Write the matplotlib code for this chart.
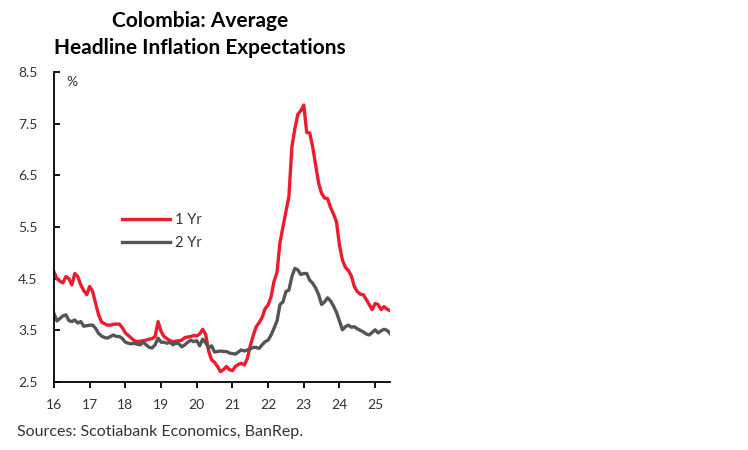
import matplotlib
matplotlib.use("Agg")
import matplotlib.pyplot as plt
import numpy as np

# Monthly data, Jan 2016 .. Jun 2025
one_yr = [4.63, 4.50, 4.45, 4.42, 4.54, 4.50, 4.38, 4.60, 4.54, 4.38, 4.27, 4.19,
          4.35, 4.25, 4.02, 3.80, 3.66, 3.63, 3.60, 3.60, 3.62, 3.62, 3.62, 3.55,
          3.45, 3.40, 3.35, 3.30, 3.28, 3.29, 3.30, 3.31, 3.33, 3.34, 3.38, 3.67,
          3.48, 3.38, 3.34, 3.30, 3.28, 3.29, 3.30, 3.31, 3.36, 3.37, 3.38, 3.40,
          3.39, 3.43, 3.52, 3.42, 3.10, 2.93, 2.88, 2.80, 2.70, 2.74, 2.80, 2.74,
          2.72, 2.80, 2.84, 2.86, 2.83, 2.95, 3.20, 3.40, 3.57, 3.65, 3.75, 3.92,
          3.99, 4.15, 4.45, 4.62, 5.20, 5.50, 5.80, 6.09, 7.05, 7.40, 7.68, 7.75,
          7.86, 7.33, 7.32, 7.05, 6.70, 6.35, 6.15, 6.06, 6.05, 5.88, 5.75, 5.60,
          5.15, 4.86, 4.72, 4.66, 4.55, 4.35, 4.25, 4.20, 4.19, 4.10, 4.00, 3.90,
          4.02, 4.00, 3.90, 3.96, 3.91, 3.88]
two_yr = [3.82, 3.68, 3.73, 3.78, 3.80, 3.69, 3.67, 3.70, 3.64, 3.67, 3.58, 3.59,
          3.60, 3.60, 3.54, 3.44, 3.39, 3.36, 3.35, 3.38, 3.41, 3.38, 3.38, 3.34,
          3.27, 3.25, 3.24, 3.25, 3.23, 3.22, 3.27, 3.22, 3.17, 3.16, 3.22, 3.35,
          3.27, 3.27, 3.25, 3.27, 3.22, 3.25, 3.24, 3.18, 3.22, 3.27, 3.31, 3.28,
          3.30, 3.20, 3.33, 3.26, 3.16, 3.20, 3.08, 3.09, 3.10, 3.09, 3.09, 3.06,
          3.05, 3.04, 3.08, 3.12, 3.10, 3.12, 3.14, 3.17, 3.17, 3.15, 3.22, 3.28,
          3.31, 3.41, 3.54, 3.68, 4.00, 4.05, 4.25, 4.28, 4.54, 4.70, 4.67, 4.58,
          4.60, 4.60, 4.47, 4.41, 4.32, 4.19, 4.00, 4.05, 4.13, 4.07, 3.97, 3.85,
          3.68, 3.51, 3.57, 3.60, 3.56, 3.57, 3.53, 3.50, 3.47, 3.43, 3.41, 3.46,
          3.51, 3.45, 3.49, 3.52, 3.50, 3.44]
start_year = 2016
tick_years = list(range(2016, 2026))
tick_labels = ["16", "17", "18", "19", "20", "21", "22", "23", "24", "25"]
y_ticks = [2.5, 3.5, 4.5, 5.5, 6.5, 7.5, 8.5]
y_labels = ["2.5", "3.5", "4.5", "5.5", "6.5", "7.5", "8.5"]

plt.rcParams['font.family'] = ['Lato', 'DejaVu Sans']

RED = '#EC1B2E'
GRAY = '#555555'
TXT = '#333333'

x = start_year + np.arange(len(one_yr)) / 12.0

fig = plt.figure(figsize=(7.48, 4.5), dpi=100)
ax = fig.add_axes([54/748, 1-382/450, (390-54)/748, (382-72)/450])

ax.plot(x, one_yr, color=RED, lw=2.4, label='1 Yr', solid_joinstyle='round')
ax.plot(x, two_yr, color=GRAY, lw=2.4, label='2 Yr', solid_joinstyle='round')

ax.set_xlim(x[0], x[-1])
ax.set_ylim(2.5, 8.5)
ax.set_xticks(tick_years)
ax.set_xticklabels(tick_labels)
ax.set_yticks(y_ticks)
ax.set_yticklabels(y_labels)

for s in ['top', 'right']:
    ax.spines[s].set_visible(False)
for s in ['left', 'bottom']:
    ax.spines[s].set_linewidth(1.3)
    ax.spines[s].set_color('black')

ax.tick_params(axis='y', direction='in', length=4, width=1.3, pad=12, labelsize=10, labelcolor=TXT)
ax.tick_params(axis='x', direction='out', length=4, width=1.3, pad=8, labelsize=10, labelcolor=TXT)

fig.text(66/748, 1-82/450, '%', fontsize=10, color=TXT, va='center', ha='left')

leg = ax.legend(loc='upper left', bbox_to_anchor=(0.202, 0.545), frameon=False,
                handlelength=3.3, handletextpad=0.35, labelspacing=0.6,
                fontsize=10.5, borderpad=0, borderaxespad=0)
for t in leg.get_texts():
    t.set_color(TXT)

fig.text(200/748, 1-21/450, 'Colombia: Average', ha='center', va='center',
         fontsize=15, fontweight='bold', color='black')
fig.text(200/748, 1-48/450, 'Headline Inflation Expectations', ha='center', va='center',
         fontsize=15, fontweight='bold', color='black')
fig.text(17/748, 1-432/450, 'Sources: Scotiabank Economics, BanRep.', ha='left', va='center',
         fontsize=11.5, color=TXT)

fig.savefig('out.png', dpi=100)
